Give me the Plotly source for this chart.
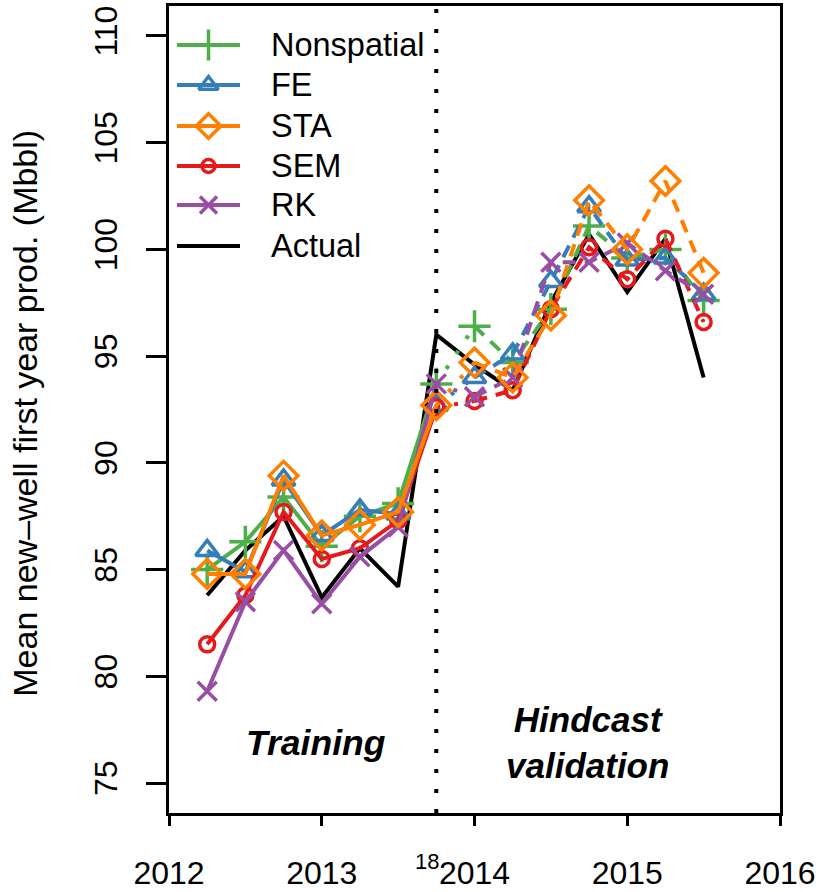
import plotly.graph_objects as go

# Quarterly time stamps (decimal years)
quarters = [2012.25, 2012.5, 2012.75, 2013.0, 2013.25, 2013.5, 2013.75,
            2014.0, 2014.25, 2014.5, 2014.75, 2015.0, 2015.25, 2015.5]

# Mean new-well first-year production (Mbbl)
actual     = [83.8, 85.9, 87.5, 83.7, 86.0, 84.2, 96.0, 94.6, 93.4, 97.5, 100.7, 98.0, 100.5, 94.0]
nonspatial = [85.0, 86.3, 88.4, 86.1, 87.5, 88.1, 93.7, 96.4, 94.7, 97.2, 101.1, 99.6, 100.0, 97.6]
fe         = [85.9, 84.9, 89.2, 86.6, 87.8, 87.6, 92.7, 94.0, 95.1, 98.5, 102.0, 99.5, 99.6, 97.9]
sta        = [84.8, 84.8, 89.4, 86.6, 87.1, 87.7, 92.7, 94.7, 94.0, 96.9, 102.3, 100.0, 103.2, 98.9]
sem        = [81.5, 83.8, 87.7, 85.5, 86.0, 87.3, 92.6, 92.9, 93.4, 97.2, 100.1, 98.6, 100.5, 96.6]
rk         = [79.3, 83.5, 85.9, 83.4, 85.6, 87.0, 93.7, 93.1, 94.0, 99.4, 99.4, 100.3, 99.0, 97.9]

x_ticks = [2012, 2013, 2014, 2015, 2016]
y_ticks = [75, 80, 85, 90, 95, 100, 105, 110]
split_year = 2013.75   # end of the training period

FONT = "Liberation Sans, Arial, Helvetica, sans-serif"
LW = 4

models = [
    # name, values, colour, symbol, size
    ("Nonspatial", nonspatial, "#4DAF4A", "cross-thin-open", 23),
    ("FE",         fe,         "#377EB8", "triangle-up-open", 20),
    ("SEM",        sem,        "#E41A1C", "circle-open", 15),
    ("RK",         rk,         "#984EA3", "x-thin-open", 19),
    ("STA",        sta,        "#FF7F00", "diamond-open", 22),
]

fig = go.Figure()

# Observed series, solid throughout
fig.add_trace(go.Scatter(x=quarters, y=actual, mode="lines",
                         line=dict(color="black", width=LW), showlegend=False))

n_train = quarters.index(split_year) + 1
for name, vals, col, sym, size in models:
    # training fit: solid
    fig.add_trace(go.Scatter(x=quarters[:n_train], y=vals[:n_train], mode="lines",
                             line=dict(color=col, width=LW), showlegend=False))
    # hand-over from training to hindcast: dotted
    fig.add_trace(go.Scatter(x=quarters[n_train - 1:n_train + 1], y=vals[n_train - 1:n_train + 1],
                             mode="lines", line=dict(color=col, width=LW, dash="4px,14px"),
                             showlegend=False))
    # hindcast: dashed
    fig.add_trace(go.Scatter(x=quarters[n_train:], y=vals[n_train:], mode="lines",
                             line=dict(color=col, width=LW, dash="13px,9px"), showlegend=False))
    # markers on every quarter
    fig.add_trace(go.Scatter(x=quarters, y=vals, mode="markers",
                             marker=dict(symbol=sym, size=size, color=col,
                                         line=dict(color=col, width=3.5)),
                             showlegend=False))

# Boundary between training and hindcast periods
fig.add_shape(type="line", x0=split_year, x1=split_year, y0=0, y1=1,
              xref="x", yref="paper", line=dict(color="black", width=4, dash="4px,16px"))

# Legend drawn on an overlay axis measured in pixels of the plot area
legend_rows = [("Nonspatial", "#4DAF4A", "cross-thin-open", 22),
               ("FE", "#377EB8", "triangle-up-open", 17),
               ("STA", "#FF7F00", "diamond-open", 19),
               ("SEM", "#E41A1C", "circle-open", 13),
               ("RK", "#984EA3", "x-thin-open", 17),
               ("Actual", "black", None, 0)]
row_y = [45, 85, 126, 166, 205, 246]
for (name, col, sym, size), ry in zip(legend_rows, row_y):
    fig.add_trace(go.Scatter(x=[8, 71], y=[ry, ry], mode="lines", xaxis="x2", yaxis="y2",
                             line=dict(color=col, width=LW), showlegend=False, hoverinfo="skip"))
    if sym:
        fig.add_trace(go.Scatter(x=[39.5], y=[ry], mode="markers", xaxis="x2", yaxis="y2",
                                 marker=dict(symbol=sym, size=size, color=col,
                                             line=dict(color=col, width=3.5)),
                                 showlegend=False, hoverinfo="skip"))
    fig.add_annotation(x=100, y=ry, xref="x2", yref="y2", text=name, showarrow=False,
                       xanchor="left", yanchor="middle", font=dict(size=32.5, color="black"))

# Period labels
fig.add_annotation(x=2012.962, y=76.9, xref="x", yref="y", text="<b><i>Training</i></b>",
                   showarrow=False, font=dict(size=35.5, color="black"))
fig.add_annotation(x=2014.74, y=76.9, xref="x", yref="y",
                   text="<b><i>Hindcast</i></b><br><b><i>validation</i></b>",
                   showarrow=False, font=dict(size=35, color="black"))

# Small stray label next to the 2014 tick label
fig.add_annotation(x=2013.69, y=-0.0607, xref="x", yref="paper", text="18",
                   showarrow=False, xanchor="center", yanchor="middle",
                   font=dict(size=22, color="black"))

# Y-axis title
fig.add_annotation(x=-0.237, y=0.495, xref="paper", yref="paper",
                   text="Mean new\u2013well first year prod. (Mbbl)", textangle=-90,
                   showarrow=False, xanchor="center", yanchor="middle",
                   font=dict(size=34, color="black"))

fig.update_layout(
    width=819, height=892,
    margin=dict(l=169, r=39, t=6, b=79, autoexpand=False),
    paper_bgcolor="white", plot_bgcolor="white",
    font=dict(family=FONT, color="black"),
    xaxis=dict(range=[2012, 2016], tickvals=x_ticks, ticktext=[str(t) for t in x_ticks],
               showgrid=False, zeroline=False, showline=True, mirror=True,
               linecolor="black", linewidth=2.5, ticks="outside", ticklen=10,
               tickwidth=2.5, tickcolor="black", tickfont=dict(size=32),
               ticklabelstandoff=20, automargin=False),
    yaxis=dict(range=[73.6, 111.4], tickvals=y_ticks, ticktext=[str(t) for t in y_ticks],
               showgrid=False, zeroline=False, showline=True, mirror=True,
               linecolor="black", linewidth=2.5, ticks="outside", ticklen=20,
               tickwidth=2.5, tickcolor="black", tickfont=dict(size=32), tickangle=-90,
               ticklabelstandoff=16, automargin=False),
    xaxis2=dict(range=[0, 611], overlaying="x", visible=False, fixedrange=True),
    yaxis2=dict(range=[813, 6], overlaying="y", visible=False, fixedrange=True),
)

fig.write_html("out.html")
